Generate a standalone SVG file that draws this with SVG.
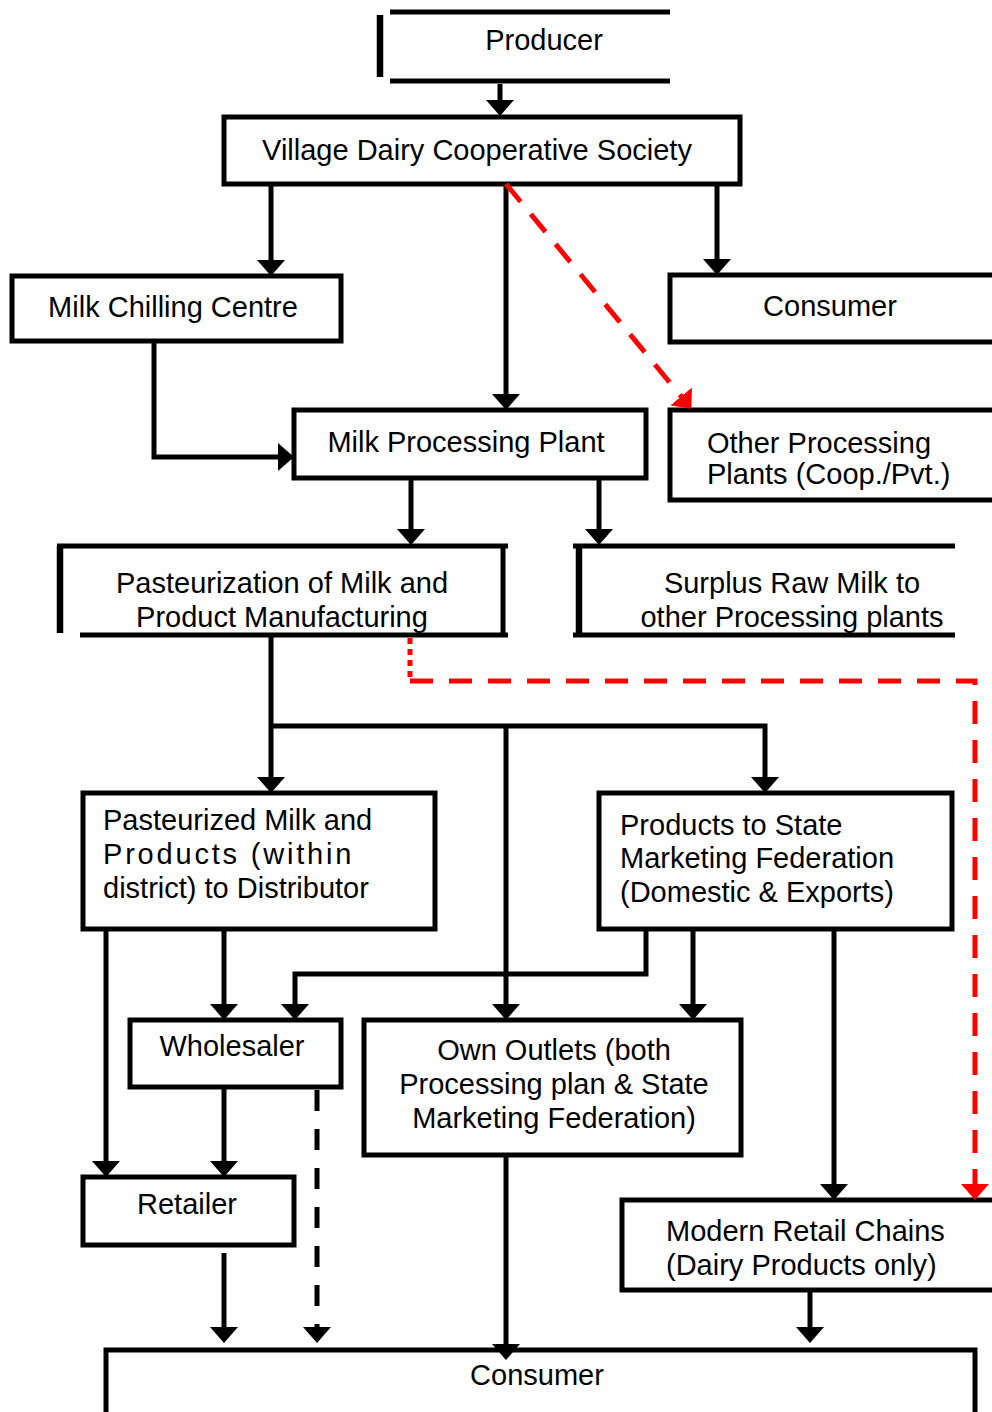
<svg xmlns="http://www.w3.org/2000/svg" width="992" height="1412" viewBox="0 0 992 1412">
  <style>
    .box { fill: #fff; stroke: #000; stroke-width: 5; }
    .edge { stroke: #000; stroke-width: 5; fill: none; }
    .side { stroke: #000; stroke-width: 6.5; }
    .t { font-family: "Liberation Sans", Arial, sans-serif; font-size: 29px; fill: #000; }
    .c { text-anchor: middle; }
    .con { fill: none; stroke: #000; stroke-width: 5; marker-end: url(#ah); }
    .dash { stroke-dasharray: 21 18; }
    .red { fill: none; stroke: #f00; stroke-width: 5; stroke-dasharray: 23 16; marker-end: url(#ahr); }
    .dot { fill: none; stroke: #f00; stroke-width: 5; stroke-dasharray: 6 5; }
  </style>
  <defs>
    <marker id="ah" viewBox="0 0 16 28" refX="6" refY="14" markerWidth="16" markerHeight="28" markerUnits="userSpaceOnUse" orient="auto">
      <path d="M0,0 L16,14 L0,28 Z" fill="#000"/>
    </marker>
    <marker id="ahr" viewBox="0 0 16 28" refX="6" refY="14" markerWidth="16" markerHeight="28" markerUnits="userSpaceOnUse" orient="auto">
      <path d="M0,0 L16,14 L0,28 Z" fill="#f00"/>
    </marker>
  </defs>
  <rect width="992" height="1412" fill="#fff"/>

  <g id="producer">
    <line class="edge" x1="390" y1="12" x2="670" y2="12"/>
    <line class="side" x1="380" y1="15" x2="380" y2="77"/>
    <line class="edge" x1="390" y1="81" x2="670" y2="81"/>
    <text class="t c" x="544" y="50">Producer</text>
  </g>
  <g id="village-dairy">
    <rect class="box" x="224" y="117" width="516" height="67"/>
    <text class="t c" x="477" y="160">Village Dairy Cooperative Society</text>
  </g>
  <g id="chilling-centre">
    <rect class="box" x="12" y="276" width="329" height="65"/>
    <text class="t c" x="173" y="317">Milk Chilling Centre</text>
  </g>
  <g id="consumer-direct">
    <rect class="box" x="670" y="275" width="340" height="67"/>
    <text class="t c" x="830" y="316">Consumer</text>
  </g>
  <g id="processing-plant">
    <rect class="box" x="294" y="410" width="352" height="68"/>
    <text class="t c" x="466" y="452">Milk Processing Plant</text>
  </g>
  <g id="other-plants">
    <rect class="box" x="670" y="410" width="340" height="90"/>
    <text class="t" x="707" y="453">Other Processing</text>
    <text class="t" x="707" y="484">Plants (Coop./Pvt.)</text>
  </g>
  <g id="pasteurization">
    <line class="edge" x1="57" y1="546" x2="508" y2="546"/>
    <line class="side" x1="60" y1="546" x2="60" y2="633"/>
    <line class="edge" x1="503" y1="546" x2="503" y2="637"/>
    <line class="edge" x1="80" y1="635" x2="508" y2="635"/>
    <text class="t c" x="282" y="593">Pasteurization of Milk and</text>
    <text class="t c" x="282" y="627">Product Manufacturing</text>
  </g>
  <g id="surplus">
    <line class="edge" x1="573" y1="546" x2="955" y2="546"/>
    <line class="side" x1="579" y1="546" x2="579" y2="636"/>
    <line class="edge" x1="573" y1="635" x2="955" y2="635"/>
    <text class="t c" x="792" y="593">Surplus Raw Milk to</text>
    <text class="t c" x="792" y="627">other Processing plants</text>
  </g>
  <g id="pasteurized-milk">
    <rect class="box" x="83" y="793" width="352" height="136"/>
    <text class="t" x="103" y="830">Pasteurized Milk and</text>
    <text class="t" x="103" y="864" letter-spacing="2.8">Products (within</text>
    <text class="t" x="103" y="898">district) to Distributor</text>
  </g>
  <g id="state-federation">
    <rect class="box" x="599" y="793" width="353" height="136"/>
    <text class="t" x="620" y="835">Products to State</text>
    <text class="t" x="620" y="868">Marketing Federation</text>
    <text class="t" x="620" y="902">(Domestic &amp; Exports)</text>
  </g>
  <g id="wholesaler">
    <rect class="box" x="130" y="1020" width="211" height="67"/>
    <text class="t c" x="232" y="1056">Wholesaler</text>
  </g>
  <g id="own-outlets">
    <rect class="box" x="364" y="1020" width="377" height="135"/>
    <text class="t c" x="554" y="1060">Own Outlets (both</text>
    <text class="t c" x="554" y="1094">Processing plan &amp; State</text>
    <text class="t c" x="554" y="1128">Marketing Federation)</text>
  </g>
  <g id="retailer">
    <rect class="box" x="83" y="1177" width="211" height="68"/>
    <text class="t c" x="187" y="1214">Retailer</text>
  </g>
  <g id="modern-retail">
    <rect class="box" x="622" y="1200" width="390" height="90"/>
    <text class="t" x="666" y="1241">Modern Retail Chains</text>
    <text class="t" x="666" y="1275">(Dairy Products only)</text>
  </g>
  <g id="consumer-final">
    <rect class="box" x="106" y="1350" width="869" height="80"/>
    <text class="t c" x="537" y="1385">Consumer</text>
  </g>

  <g id="connectors">
    <path class="con" d="M500,84 V106"/>
    <path class="con" d="M271,186 V266"/>
    <path class="con" d="M506,186 V400"/>
    <path class="con" d="M717,186 V265"/>
    <path class="con" d="M154,343 V457 H284"/>
    <path class="red" d="M506,184 L685,401"/>
    <path class="con" d="M411,480 V535"/>
    <path class="con" d="M599,480 V535"/>
    <path class="con" d="M271,637 V783"/>
    <path class="con" d="M271,726 H765 V783"/>
    <path class="con" d="M506,726 V1010"/>
    <path class="dot" d="M410,638 V681"/>
    <path class="red" d="M410,681 H975 V1190"/>
    <path class="con" d="M106,931 V1167"/>
    <path class="con" d="M224,931 V1010"/>
    <path class="con" d="M646,931 V974 H295 V1010"/>
    <path class="con" d="M693,931 V1010"/>
    <path class="con" d="M834,931 V1190"/>
    <path class="con" d="M224,1089 V1167"/>
    <path class="con dash" d="M317,1090 V1333"/>
    <path class="con" d="M224,1253 V1333"/>
    <path class="con" d="M506,1157 V1350"/>
    <path class="con" d="M810,1292 V1333"/>
  </g>
</svg>
